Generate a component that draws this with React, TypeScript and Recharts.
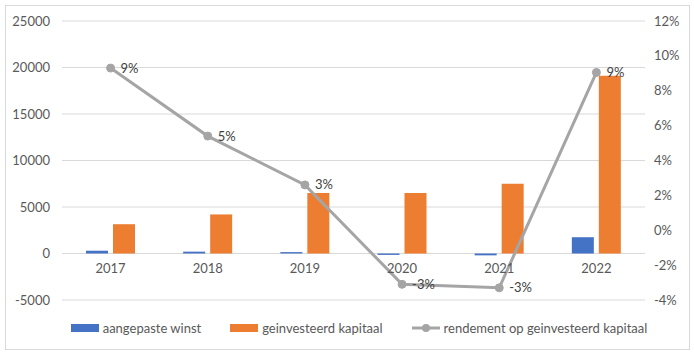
import React from 'react';
import {ComposedChart, Bar, Line, XAxis, YAxis, CartesianGrid, Legend, LabelList} from 'recharts';

const years = ['2017', '2018', '2019', '2020', '2021', '2022'];
const aangepasteWinst = [300, 200, 150, -150, -200, 1750];
const geinvesteerdKapitaal = [3150, 4200, 6500, 6500, 7500, 19100];
const rendement = [9.3, 5.4, 2.6, -3.1, -3.3, 9.05];
const leftTicks = [-5000, 0, 5000, 10000, 15000, 20000, 25000];
const rightTicks = [-4, -2, 0, 2, 4, 6, 8, 10, 12];

const data = years.map((year, i) => ({
  year,
  winst: aangepasteWinst[i],
  kapitaal: geinvesteerdKapitaal[i],
  rendement: rendement[i],
}));

const FONT = 'Lato, "Noto Sans", sans-serif';
const TICK = {fill: '#595959', fontSize: 13, fontFamily: FONT};

const YearTick = (props: any) => {
  const {x, y, payload} = props;
  return (
    <text x={x} y={y - 44} dy="0.71em" textAnchor="middle" fill="#595959" fontSize={13} fontFamily={FONT}>
      {payload.value}
    </text>
  );
};

const PctLabel = (props: any) => {
  const {x, y, value} = props;
  return (
    <text x={x + 10} y={y} dy="0.35em" fill="#404040" fontSize={13} fontFamily={FONT}>
      {Math.round(value) + '%'}
    </text>
  );
};

const LegendBox = (props: any) => {
  const items = props.payload || [];
  return (
    <div style={{display: 'flex', justifyContent: 'center', gap: 29, fontFamily: FONT, fontSize: 13, color: '#595959', paddingLeft: 24}}>
      {items.map((it: any) => (
        <div key={it.value} style={{display: 'flex', alignItems: 'center', gap: 4}}>
          {it.type === 'line' ? (
            <svg width={28} height={10}>
              <line x1={0} y1={5} x2={28} y2={5} stroke={it.color} strokeWidth={3} />
              <circle cx={14} cy={5} r={4} fill={it.color} />
            </svg>
          ) : (
            <svg width={28} height={10}>
              <rect x={0} y={1} width={28} height={8} fill={it.color} />
            </svg>
          )}
          <span>{it.value}</span>
        </div>
      ))}
    </div>
  );
};

export default function App() {
  return (
    <div style={{position: 'absolute', left: 0, top: 0, width: 694, height: 354, background: '#fff'}}>
      <div style={{position: 'absolute', left: 5, top: 5, width: 683, height: 343, border: '1px solid #d9d9d9'}} />
      <ComposedChart
        width={694}
        height={354}
        data={data}
        margin={{top: 21, right: 0, left: 0, bottom: 18}}
        barSize={22}
        barGap={5}
        style={{position: 'absolute', left: 0, top: 0}}
      >
        <CartesianGrid yAxisId="left" vertical={false} stroke="#d9d9d9" strokeWidth={1} />
        <XAxis dataKey="year" axisLine={false} tickLine={false} height={20} tick={<YearTick />} interval={0} />
        <YAxis
          yAxisId="left"
          width={62}
          domain={[-5000, 25000]}
          ticks={leftTicks}
          axisLine={false}
          tickLine={false}
          tickMargin={6}
          tick={TICK}
        />
        <YAxis
          yAxisId="right"
          orientation="right"
          width={49}
          domain={[-4, 12]}
          ticks={rightTicks}
          axisLine={false}
          tickLine={false}
          tickMargin={3}
          tick={TICK}
          tickFormatter={(v: number) => v + '%'}
        />
        <Legend verticalAlign="bottom" content={<LegendBox />} />
        <Bar yAxisId="left" dataKey="winst" name="aangepaste winst" fill="#4472c4" legendType="rect" isAnimationActive={false} />
        <Bar yAxisId="left" dataKey="kapitaal" name="geinvesteerd kapitaal" fill="#ed7d31" legendType="rect" isAnimationActive={false} />
        <Line
          yAxisId="right"
          dataKey="rendement"
          name="rendement op geinvesteerd kapitaal"
          stroke="#a5a5a5"
          strokeWidth={3}
          dot={{r: 4, fill: '#a5a5a5', stroke: '#a5a5a5', strokeWidth: 1}}
          legendType="line"
          isAnimationActive={false}
        >
          <LabelList dataKey="rendement" content={<PctLabel />} />
        </Line>
      </ComposedChart>
    </div>
  );
}
